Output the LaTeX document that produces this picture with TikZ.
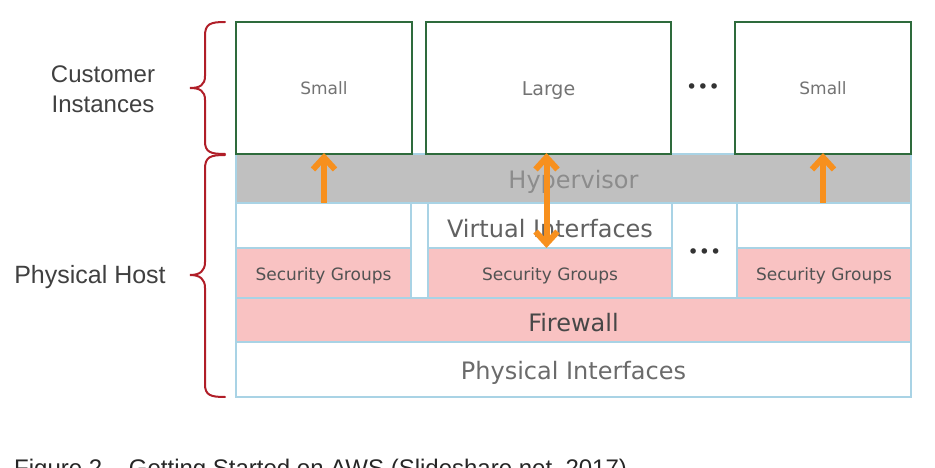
\documentclass[tikz,border=0pt]{standalone}
\usepackage{fontspec}
\setmainfont{Liberation Sans}
\newfontfamily\djv{DejaVu Sans}
\usetikzlibrary{arrows.meta}
\definecolor{grn}{HTML}{2E6B3C}
\definecolor{lblue}{HTML}{A9D3E5}
\definecolor{pinkf}{HTML}{F9C2C2}
\definecolor{hgray}{HTML}{C0C0C0}
\definecolor{orng}{HTML}{F7901E}
\definecolor{bred}{HTML}{B01E28}
\tikzset{
  rect/.style n args={2}{minimum width=#1pt, minimum height=#2pt},
  box/.style={draw=lblue, line width=2pt, fill=white, anchor=north west, inner sep=0pt, outer sep=0pt},
  inst/.style={draw=grn, line width=2pt, fill=white, anchor=north west, inner sep=0pt, outer sep=0pt},
  lbl/.style={inner sep=0pt, yshift=-3pt},
  tx/.style 2 args={label={[lbl,#1]center:#2}},
  big/.style={font=\djv\fontsize{24}{28}\selectfont},
  sgtxt/.style={font=\djv\fontsize{17}{20}\selectfont, text=black!68},
  insttxt/.style={font=\djv\fontsize{17}{20}\selectfont, text=black!55},
  largetxt/.style={font=\djv\fontsize{19}{22}\selectfont, text=black!55},
  dotsn/.style={font=\djv\fontsize{19}{22}\selectfont, text=black!80},
  barb/.tip={Straight Barb[length=12pt,width=22pt]},
  oar/.style={draw=orng, line width=6pt, -barb},
  brc/.style={draw=bred, line width=2pt, line cap=round},
  side/.style={font=\fontsize{24}{30}\selectfont, text=black!75, align=center}
}
\begin{document}
\begin{tikzpicture}[x=1pt, y=-1pt]
\useasboundingbox (0,0) rectangle (935,468);
% host layers
\node[box, rect={675}{49}, fill=hgray, tx={big, text=black!45}{Hypervisor}] (hyp) at (236,154) {};
\node[box, rect={175}{45}] (vi1) at (236,203) {};
\node[box, rect={175}{50}, fill=pinkf, tx={sgtxt}{Security Groups}] (sg1) at (236,248) {};
\node[box, rect={17}{95}] (gap) at (411,203) {};
\node[box, rect={244}{45}, tx={big, text=black!62}{Virtual Interfaces}] (vi2) at (428,203) {};
\node[box, rect={244}{50}, fill=pinkf, tx={sgtxt}{Security Groups}] (sg2) at (428,248) {};
\node[box, rect={65}{95}, tx={dotsn}{•••}] (dotc) at (672,203) {};
\node[box, rect={174}{45}] (vi3) at (737,203) {};
\node[box, rect={174}{50}, fill=pinkf, tx={sgtxt}{Security Groups}] (sg3) at (737,248) {};
\node[box, rect={675}{44}, fill=pinkf, tx={big, text=black!72}{Firewall}] (fw) at (236,298) {};
\node[box, rect={675}{55}, tx={big, text=black!58}{Physical Interfaces}] (phy) at (236,342) {};
% instances
\node[inst, rect={176}{132}, tx={insttxt, yshift=3pt}{Small}] (s1) at (236,22) {};
\node[inst, rect={245}{132}, tx={largetxt}{Large}] (lg) at (426,22) {};
\node[inst, rect={176}{132}, tx={insttxt, yshift=3pt}{Small}] (s3) at (735,22) {};
\node[dotsn] (dtop) at (703,89) {•••};
% arrows
\draw[oar] (s1.south |- hyp.south) -- ([yshift=1pt]s1.south);
\draw[oar, barb-barb] ([xshift=-2pt,yshift=1pt]lg.south) -- ([xshift=-2pt]lg.south |- sg2.north);
\draw[oar] (s3.south |- hyp.south) -- ([yshift=1pt]s3.south);
% braces
\draw[brc] (225,22) .. controls (210,22) and (205,24) .. (205,36) -- (205,76)
  .. controls (205,85) and (200,88) .. (190,88)
  .. controls (200,88) and (205,91) .. (205,100) -- (205,141)
  .. controls (205,152) and (210,154) .. (225,154);
\draw[brc] (225,155) .. controls (210,155) and (205,157) .. (205,169) -- (205,262)
  .. controls (205,271) and (200,275) .. (190,275)
  .. controls (200,275) and (205,279) .. (205,288) -- (205,384)
  .. controls (205,395) and (210,397) .. (225,397);
% side labels
\node[side] (ci) at (103,89) {Customer\\Instances};
\node[side, font=\fontsize{25}{30}\selectfont] (ph) at (90,277) {Physical Host};
% caption (cut off by page edge, as in the reference)
\node[anchor=base west, font=\fontsize{24}{28}\selectfont, text=black!85, inner sep=0pt] (cap) at (14,476) {Figure 2 – Getting Started on AWS (Slideshare.net, 2017)};
\end{tikzpicture}
\end{document}
